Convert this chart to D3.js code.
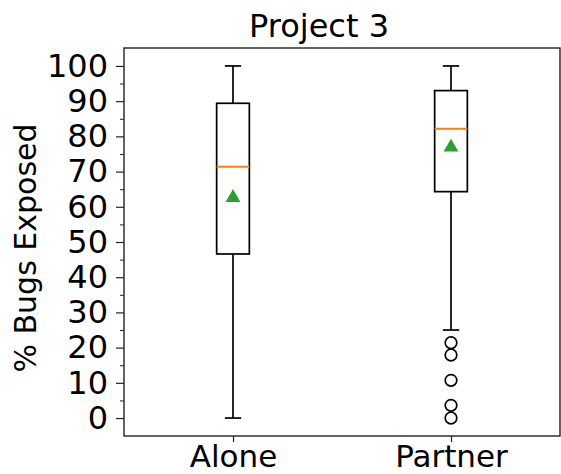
<!DOCTYPE html>
<html>
<head>
<meta charset="utf-8">
<script src="https://cdn.jsdelivr.net/npm/d3@7"></script>
<style>
  html, body { margin: 0; padding: 0; background: #fff; }
  svg { display: block; }
  text { font-family: "DejaVu Sans", sans-serif; fill: #000; }
</style>
</head>
<body>
<script>
// ---- data ----
const categories = ["Alone", "Partner"];
const whiskerLow = [0, 25];
const q1 = [46.6, 64.3];
const median = [71.4, 82.2];
const q3 = [89.4, 93.0];
const whiskerHigh = [100, 100];
const means = [62.6, 76.9];
const outliers = [[], [21.4, 17.9, 10.7, 3.6, 0]];
const yTicks = [0, 10, 20, 30, 40, 50, 60, 70, 80, 90, 100];
const yMinorTicks = [5, 15, 25, 35, 45, 55, 65, 75, 85, 95];
const title = "Project 3";
const yLabel = "% Bugs Exposed";

// ---- layout ----
const W = 561, H = 474;
const plot = { left: 124, right: 560, top: 48, bottom: 436 };

const svg = d3.select("body").append("svg").attr("width", W).attr("height", H);

const x = d3.scalePoint().domain(categories).range([plot.left, plot.right]).padding(0.5);
const y = d3.scaleLinear().domain([-5.1, 105.1]).range([plot.bottom, plot.top]);
const boxW = x.step() * 0.15;
const capW = boxW / 2;

const g = svg.append("g");

categories.forEach((c, i) => {
  const cx = x(c);
  g.append("line").attr("x1", cx).attr("x2", cx).attr("y1", y(q3[i])).attr("y2", y(whiskerHigh[i]))
    .attr("stroke", "#000").attr("stroke-width", 1.7);
  g.append("line").attr("x1", cx).attr("x2", cx).attr("y1", y(q1[i])).attr("y2", y(whiskerLow[i]))
    .attr("stroke", "#000").attr("stroke-width", 1.7);
  [whiskerHigh[i], whiskerLow[i]].forEach(v => {
    g.append("line").attr("x1", cx - capW / 2).attr("x2", cx + capW / 2).attr("y1", y(v)).attr("y2", y(v))
      .attr("stroke", "#000").attr("stroke-width", 1.7);
  });
  g.append("rect").attr("x", cx - boxW / 2).attr("width", boxW)
    .attr("y", y(q3[i])).attr("height", y(q1[i]) - y(q3[i]))
    .attr("fill", "none").attr("stroke", "#000").attr("stroke-width", 1.7);
  g.append("line").attr("x1", cx - boxW / 2).attr("x2", cx + boxW / 2).attr("y1", y(median[i])).attr("y2", y(median[i]))
    .attr("stroke", "#ff7f0e").attr("stroke-width", 2);
  g.append("path").attr("d", d3.symbol(d3.symbolTriangle, 95)())
    .attr("transform", `translate(${cx},${y(means[i])})`)
    .attr("fill", "#2ca02c");
  outliers[i].forEach(v => {
    g.append("circle").attr("cx", cx).attr("cy", y(v)).attr("r", 5.8)
      .attr("fill", "none").attr("stroke", "#000").attr("stroke-width", 1.7);
  });
});

// frame
svg.append("rect").attr("x", plot.left).attr("y", plot.top)
  .attr("width", plot.right - plot.left).attr("height", plot.bottom - plot.top)
  .attr("fill", "none").attr("stroke", "#222").attr("stroke-width", 1.4);

// y axis
const yAxis = svg.append("g").attr("transform", `translate(${plot.left},0)`)
  .call(d3.axisLeft(y).tickValues(yTicks).tickSize(8).tickPadding(8));
yAxis.select(".domain").remove();
yAxis.selectAll("text").style("font-size", "32px").style("font-family", "DejaVu Sans");
yAxis.selectAll("line").attr("stroke", "#222").attr("stroke-width", 1.2);

const yMinor = svg.append("g").attr("transform", `translate(${plot.left},0)`)
  .call(d3.axisLeft(y).tickValues(yMinorTicks).tickSize(4).tickFormat(""));
yMinor.select(".domain").remove();
yMinor.selectAll("line").attr("stroke", "#222").attr("stroke-width", 1);

// x axis
const xAxis = svg.append("g").attr("transform", `translate(0,${plot.bottom})`)
  .call(d3.axisBottom(x).tickSize(6).tickPadding(3));
xAxis.select(".domain").remove();
xAxis.selectAll("text").style("font-size", "31px").style("font-family", "DejaVu Sans")
  .attr("y", 0).attr("dy", null).attr("transform", "translate(0,30.5)");
xAxis.selectAll("line").attr("stroke", "#222").attr("stroke-width", 1.2);

// title
svg.append("text").attr("x", 319).attr("y", 37).attr("text-anchor", "middle")
  .style("font-size", "32px").text(title);

// y label
svg.append("text").attr("transform", `translate(36,${248}) rotate(-90)`)
  .attr("text-anchor", "middle").style("font-size", "30px").text(yLabel);
</script>
</body>
</html>
